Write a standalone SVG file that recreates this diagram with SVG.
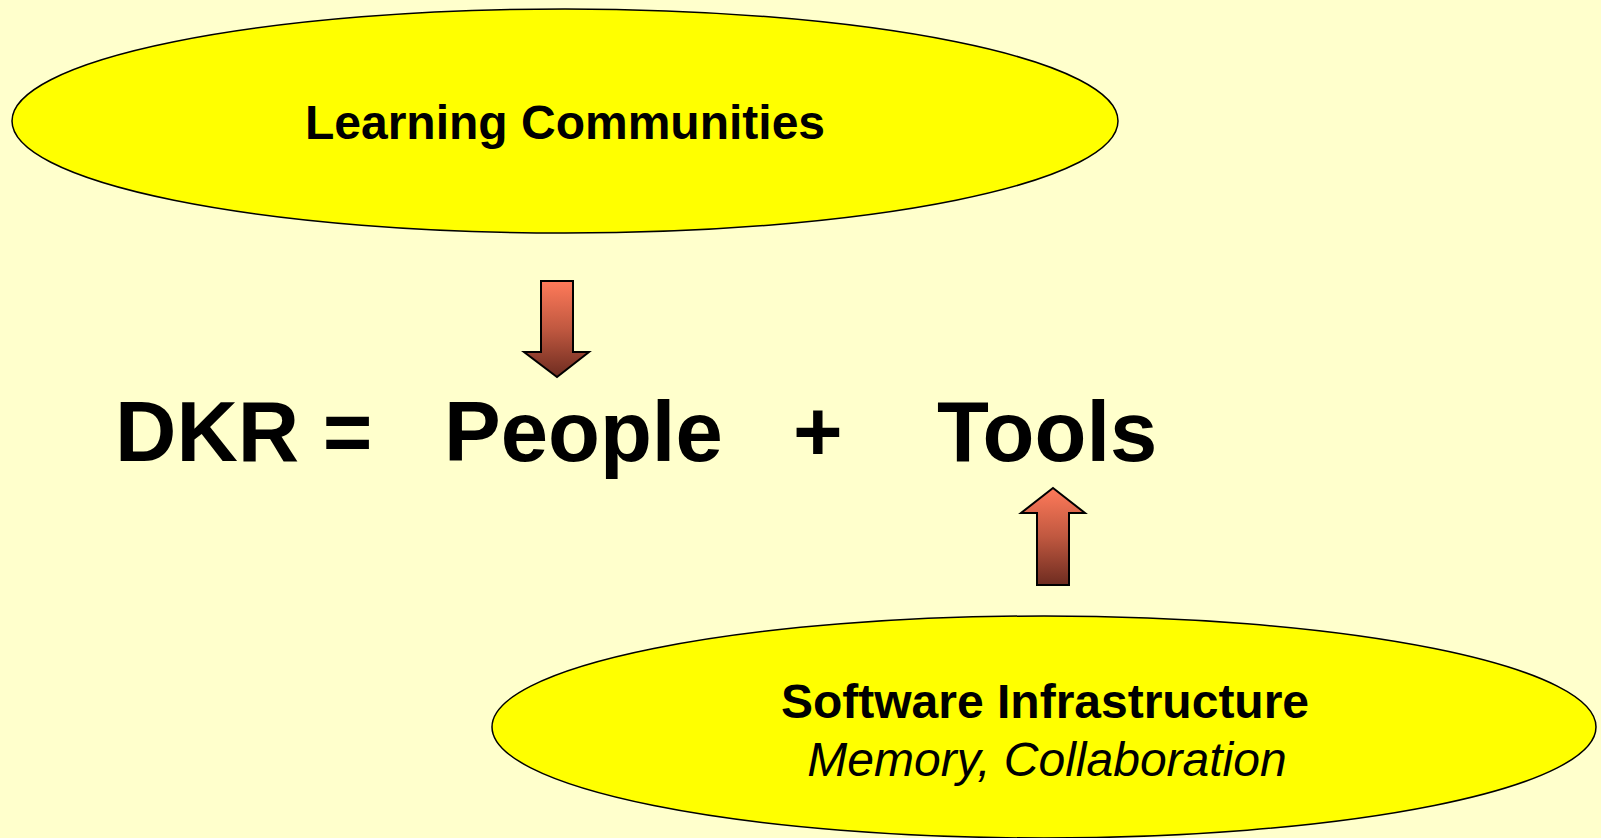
<svg xmlns="http://www.w3.org/2000/svg" width="1601" height="838" viewBox="0 0 1601 838">
<style>
.ell{fill:#FFFF00;stroke:#000;stroke-width:1.5}
.b{font-family:"Liberation Sans",Arial,sans-serif;font-weight:bold;fill:#000}
.i{font-family:"Liberation Sans",Arial,sans-serif;font-style:italic;fill:#000}
.arr{fill:url(#g);stroke:#000;stroke-width:2;stroke-linejoin:miter}
</style>
<defs>
<linearGradient id="g" x1="0" y1="0" x2="0" y2="1">
<stop offset="0" stop-color="#FF7A5A"/>
<stop offset="0.5" stop-color="#C05840"/>
<stop offset="1" stop-color="#6E2C20"/>
</linearGradient>
</defs>
<rect width="1601" height="838" fill="#FFFFCC"/>
<g id="learning-communities">
<ellipse class="ell" cx="565" cy="121" rx="553" ry="112"/>
<text class="b" x="565" y="139" font-size="48" text-anchor="middle">Learning Communities</text>
</g>
<g id="software-infrastructure">
<ellipse class="ell" cx="1044" cy="727" rx="552" ry="111"/>
<text class="b" x="1045" y="718" font-size="48" text-anchor="middle">Software Infrastructure</text>
<text class="i" x="1047" y="776" font-size="48" text-anchor="middle">Memory, Collaboration</text>
</g>
<g id="equation">
<text class="b" x="115" y="461" font-size="85">DKR =</text>
<text class="b" x="444" y="461" font-size="85">People</text>
<text class="b" x="793" y="461" font-size="85">+</text>
<text class="b" x="937" y="461" font-size="85">Tools</text>
</g>
<g id="connectors">
<polygon class="arr" points="541,281 573,281 573,352 589,352 557,377 524,352 541,352"/>
<polygon class="arr" points="1053,488 1085,513 1069,513 1069,585 1037,585 1037,513 1021,513"/>
</g>
</svg>
